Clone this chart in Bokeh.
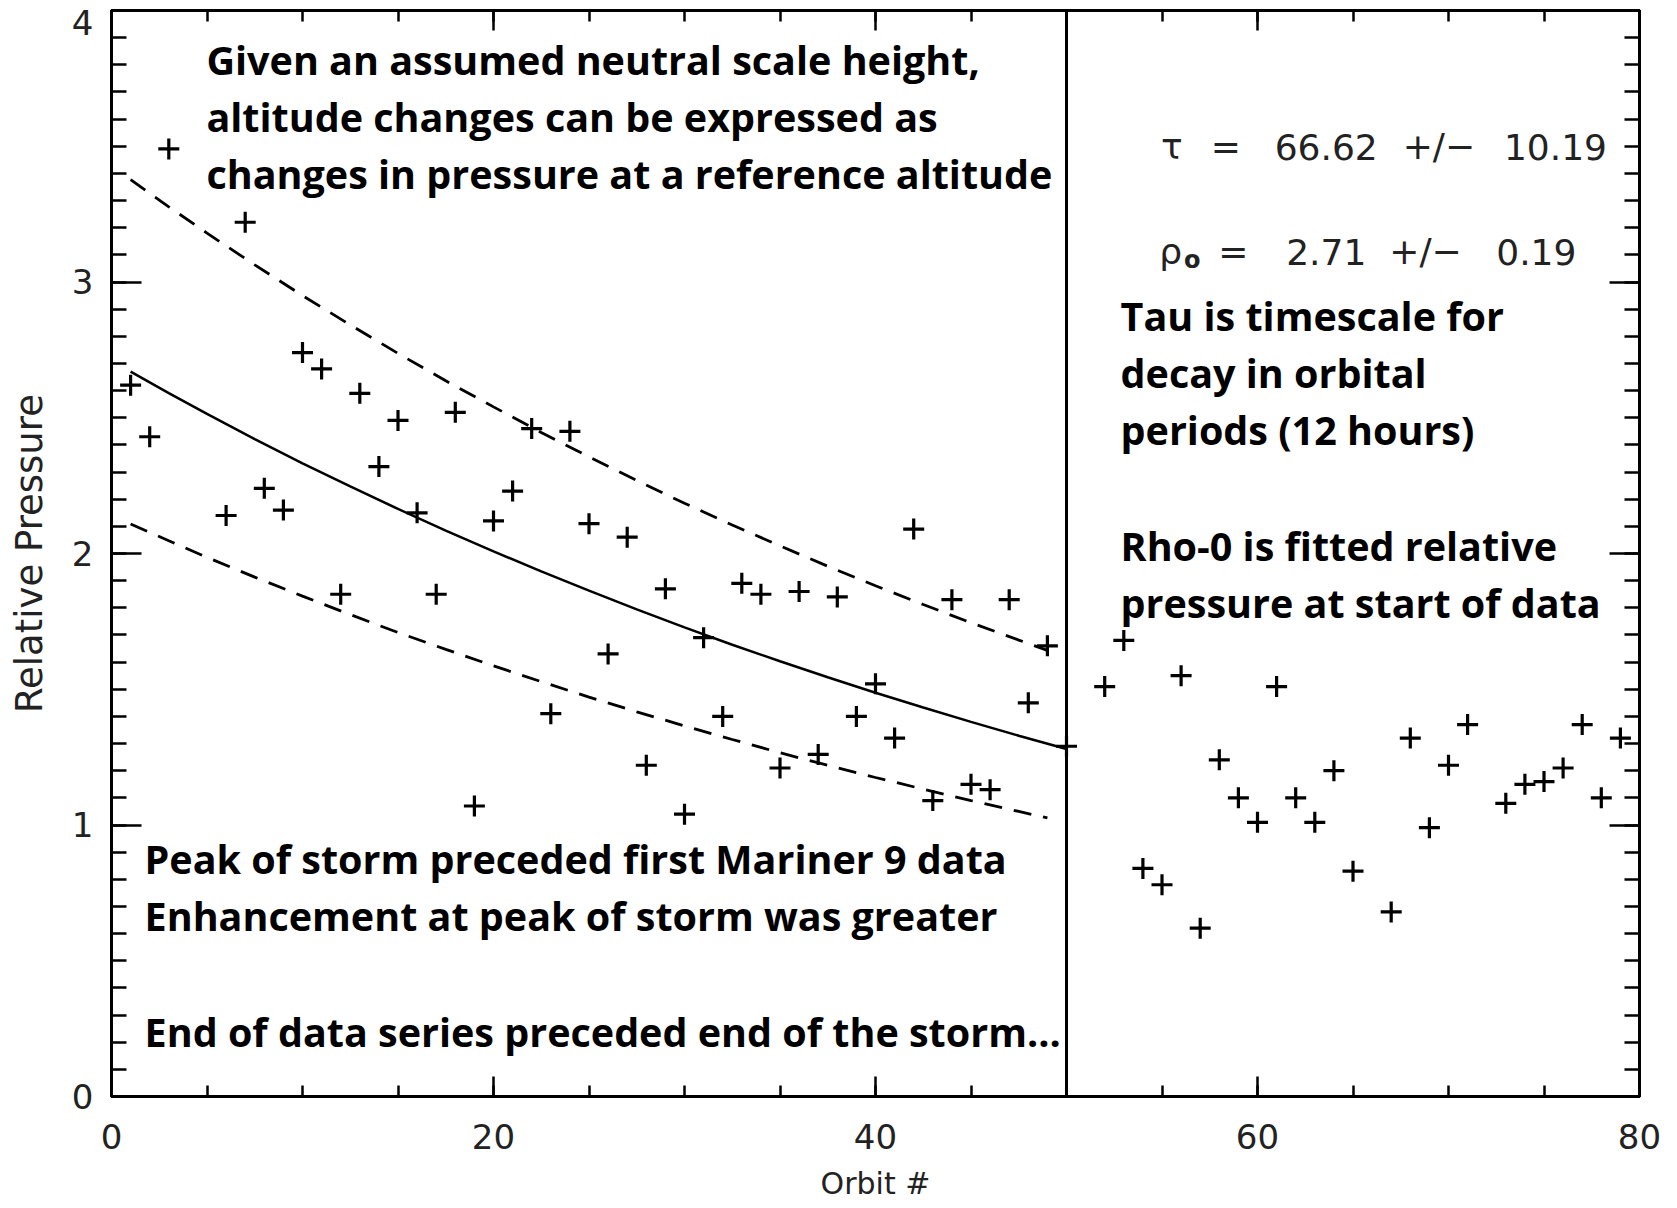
from bokeh.plotting import figure
from bokeh.models import (LinearAxis, SingleIntervalTicker, Span, Range1d,
                          CustomJSTickFormatter)
from bokeh.core.properties import value
from bokeh.embed import file_html
from bokeh.resources import INLINE

# ---------------- data ----------------
orbit = [1, 2, 3, 6, 7, 8, 9, 10, 11, 12, 13, 14, 15, 16, 17, 18, 19, 20,
         21, 22, 23, 24, 25, 26, 27, 28, 29, 30, 31, 32, 33, 34, 35, 36, 37,
         38, 39, 40, 41, 42, 43, 44, 45, 46, 47, 48, 49, 50,
         52, 53, 54, 55, 56, 57, 58, 59, 60, 61, 62, 63, 64, 65, 67, 68, 69,
         70, 71, 73, 74, 75, 76, 77, 78, 79]
pressure = [2.62, 2.43, 3.49, 2.14, 3.22, 2.24, 2.16, 2.74, 2.68, 1.85, 2.59,
            2.32, 2.49, 2.15, 1.85, 2.52, 1.07, 2.12, 2.23, 2.46, 1.41, 2.45,
            2.11, 1.63, 2.06, 1.22, 1.87, 1.04, 1.69, 1.40, 1.89, 1.85, 1.21,
            1.86, 1.26, 1.84, 1.40, 1.52, 1.32, 2.09, 1.09, 1.83, 1.15, 1.13,
            1.83, 1.45, 1.66, 1.29,
            1.51, 1.68, 0.84, 0.78, 1.55, 0.62, 1.24, 1.10, 1.01, 1.51, 1.10,
            1.01, 1.20, 0.83, 0.68, 1.32, 0.99, 1.22, 1.37, 1.08, 1.15, 1.16,
            1.21, 1.37, 1.10, 1.32]

# fitted decay curve and its envelope
fit_orbit = [1, 3, 5, 7.5, 10, 12.5, 15, 17.5, 20, 22.5, 25, 27.5, 30, 32.5,
             35, 37.5, 40, 42.5, 45, 47.5, 50]
fit_pressure = [2.670, 2.591, 2.514, 2.421, 2.332, 2.247, 2.164, 2.084, 2.008,
                1.934, 1.863, 1.794, 1.728, 1.664, 1.603, 1.544, 1.487, 1.433,
                1.380, 1.329, 1.280]
band_orbit = [1, 3, 5, 7.5, 10, 12.5, 15, 17.5, 20, 22.5, 25, 27.5, 30, 32.5,
              35, 37.5, 40, 42.5, 45, 47.5, 49]
upper_pressure = [3.377, 3.277, 3.180, 3.063, 2.950, 2.842, 2.737, 2.636, 2.540,
                  2.446, 2.356, 2.269, 2.185, 2.105, 2.028, 1.953, 1.881, 1.812,
                  1.745, 1.681, 1.643]
lower_pressure = [2.109, 2.047, 1.986, 1.913, 1.843, 1.775, 1.709, 1.647, 1.586,
                  1.528, 1.471, 1.417, 1.365, 1.315, 1.266, 1.220, 1.175, 1.132,
                  1.090, 1.050, 1.026]

end_of_fit_orbit = 50

x_ticks_interval = 20
y_ticks_interval = 1

# fit results printed on the chart
tau_text = ["τ", "=", "66.62", "+/−", "10.19"]
tau_x = [54.95, 57.55, 60.9, 67.6, 72.9]
rho_text = ["ρ", "=", "2.71", "+/−", "0.19"]
rho_x = [54.85, 57.95, 61.5, 66.9, 72.5]
tau_y = 3.498
rho_y = 3.111

# annotation blocks
note_top = ["Given an assumed neutral scale height,",
            "altitude changes can be expressed as",
            "changes in pressure at a reference altitude"]
note_top_x = 4.97
note_top_y = [3.818, 3.608, 3.398]

note_right = ["Tau is timescale for", "decay in orbital", "periods (12 hours)",
              "Rho-0 is fitted relative", "pressure at start of data"]
note_right_x = 52.83
note_right_y = [2.876, 2.666, 2.456, 2.029, 1.819]

note_bottom = ["Peak of storm preceded first Mariner 9 data",
               "Enhancement at peak of storm was greater",
               "End of data series preceded end of the storm…"]
note_bottom_x = 1.73
note_bottom_y = [0.875, 0.665, 0.238]

# ---------------- figure ----------------
p = figure(width=1677, height=1208, x_range=Range1d(0, 80), y_range=Range1d(0, 4),
           output_backend="svg", toolbar_location=None,
           min_border_left=111, min_border_right=38, min_border_top=10,
           min_border_bottom=112)
p.grid.visible = False
p.outline_line_color = "black"
p.outline_line_width = 3
p.background_fill_color = "white"
p.border_fill_color = "white"

xt = SingleIntervalTicker(interval=x_ticks_interval, num_minor_ticks=4)
yt = SingleIntervalTicker(interval=y_ticks_interval, num_minor_ticks=10)

TICK_FONT = "DejaVu Sans"
TEXT_COLOR = "#222222"
NOTE_FONT = "Open Sans"


def style_axis(ax, horizontal):
    ax.axis_line_width = 3
    ax.axis_line_color = "black"
    ax.major_tick_line_width = 2.5
    ax.minor_tick_line_width = 2.5
    ax.major_tick_out = 0
    ax.minor_tick_out = 0
    ax.major_tick_in = 20 if horizontal else 30
    ax.minor_tick_in = 11 if horizontal else 15


bx = p.xaxis[0]
bx.ticker = xt
style_axis(bx, True)
bx.major_label_text_font = TICK_FONT
bx.major_label_text_font_size = "34px"
bx.major_label_text_color = TEXT_COLOR
bx.major_label_standoff = 27
bx.axis_label = "Orbit #"
bx.axis_label_text_font = TICK_FONT
bx.axis_label_text_font_size = "30px"
bx.axis_label_text_font_style = "normal"
bx.axis_label_text_color = TEXT_COLOR
bx.axis_label_standoff = 14

ly = p.yaxis[0]
ly.ticker = yt
style_axis(ly, False)
ly.major_label_text_font = TICK_FONT
ly.major_label_text_font_size = "34px"
ly.major_label_text_color = TEXT_COLOR
ly.major_label_standoff = 18
ly.major_label_text_line_height = 0.05
ly.major_label_overrides = {4: "\n4"}
ly.axis_label = "Relative Pressure"
ly.axis_label_text_font = TICK_FONT
ly.axis_label_text_font_size = "37px"
ly.axis_label_text_font_style = "normal"
ly.axis_label_text_color = TEXT_COLOR
ly.axis_label_standoff = 18

blank = CustomJSTickFormatter(code="return ''")
top_ax = LinearAxis(ticker=xt, formatter=blank, major_label_text_font_size="0px",
                    major_label_standoff=0)
style_axis(top_ax, True)
right_ax = LinearAxis(ticker=yt, formatter=blank, major_label_text_font_size="0px",
                      major_label_standoff=0)
style_axis(right_ax, False)
p.add_layout(top_ax, "above")
p.add_layout(right_ax, "right")

# end-of-fit vertical line
p.add_layout(Span(location=end_of_fit_orbit, dimension="height",
                  line_color="black", line_width=3))

# curves
p.line(fit_orbit, fit_pressure, line_color="black", line_width=2.5)
p.line(band_orbit, upper_pressure, line_color="black", line_width=2.8,
       line_dash="18 12")
p.line(band_orbit, lower_pressure, line_color="black", line_width=2.8,
       line_dash="18 12")

# data points
p.scatter(orbit, pressure, marker="cross", size=21, line_color="black",
          line_width=3.2)

# fit parameters
p.text(x=tau_x, y=[tau_y] * len(tau_x), text=tau_text,
       text_font=value(TICK_FONT), text_font_size="36px",
       text_color=TEXT_COLOR, text_baseline="alphabetic", text_align="left")
p.text(x=rho_x, y=[rho_y] * len(rho_x), text=rho_text,
       text_font=value(TICK_FONT), text_font_size="36px",
       text_color=TEXT_COLOR, text_baseline="alphabetic", text_align="left")
p.text(x=[56.15], y=[rho_y - 0.03], text=["o"],
       text_font=value(TICK_FONT), text_font_size="24px", text_font_style="bold",
       text_color=TEXT_COLOR, text_baseline="alphabetic", text_align="left")

# annotations
for lines, xx, ys in [(note_top, note_top_x, note_top_y),
                      (note_right, note_right_x, note_right_y),
                      (note_bottom, note_bottom_x, note_bottom_y)]:
    p.text(x=[xx] * len(lines), y=ys, text=lines,
           text_font=value(NOTE_FONT), text_font_style="bold",
           text_font_size="39.5px", text_color="black",
           text_baseline="alphabetic", text_align="left")

open("out.html", "w").write(file_html(p, INLINE))
